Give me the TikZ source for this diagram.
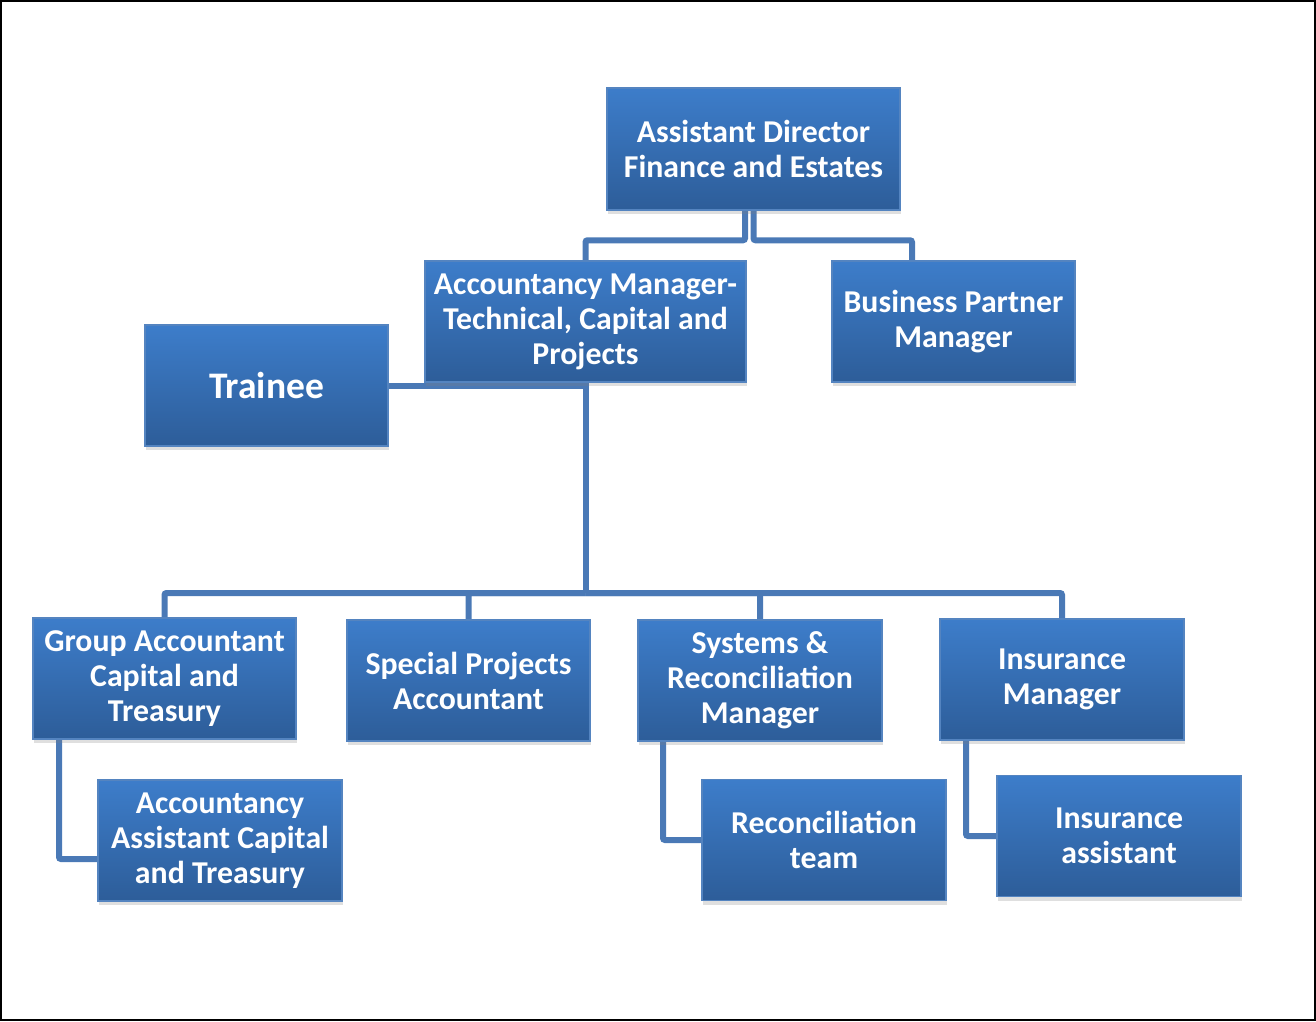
\documentclass[tikz,border=0pt]{standalone}
\usepackage{fontspec}
\setmainfont{Carlito}
\usepackage{tikz}
\usetikzlibrary{shadows,backgrounds}

\definecolor{boxtop}{RGB}{61,125,202}
\definecolor{boxbottom}{RGB}{45,93,153}
\definecolor{boxline}{RGB}{84,132,192}
\definecolor{linkblue}{RGB}{74,121,182}

\begin{document}
\begin{tikzpicture}[x=1pt,y=-1pt]
    \tikzstyle{post}=[rectangle,top color=boxtop,bottom color=boxbottom,draw=boxline,line width=1.5pt,
        minimum height=121pt,inner sep=0pt,align=center,text=white,font=\bfseries\fontsize{31.8}{35}\selectfont,
        drop shadow={shadow xshift=1pt,shadow yshift=-4pt,opacity=0.25}]
    \tikzstyle{link}=[draw=linkblue,line width=6pt,rounded corners=2pt]

    % frame of the page
    \draw[line width=2pt] (1,1) rectangle (1315,1020);

    % top level
    \node[post,minimum width=293pt,minimum height=122pt] (AD) at (753.5,149) {Assistant Director\\Finance and Estates};
    % second level
    \node[post,minimum width=321pt] (AM) at (585.5,321.5) {Accountancy Manager-\\Technical, Capital and\\Projects};
    \node[post,minimum width=243pt] (BP) at (953.5,321.5) {Business Partner\\Manager};
    \node[post,minimum width=243pt,font=\bfseries\fontsize{37.5}{42}\selectfont] (TR) at (266.5,385.5) {Trainee};
    % third level
    \node[post,minimum width=263pt] (GA) at (164.5,678.5) {Group Accountant\\Capital and\\Treasury};
    \node[post,minimum width=243pt] (SP) at (468.5,680.5) {Special Projects\\Accountant};
    \node[post,minimum width=244pt] (SR) at (760,680.5) {Systems \&\\Reconciliation\\Manager};
    \node[post,minimum width=244pt] (IM) at (1062,679.5) {Insurance\\Manager};
    % assistants
    \node[post,minimum width=244pt] (AA) at (220,840.5) {Accountancy\\Assistant Capital\\and Treasury};
    \node[post,minimum width=244pt] (RT) at (824,840) {Reconciliation\\team};
    \node[post,minimum width=244pt] (IA) at (1119,836) {Insurance\\assistant};

    % connectors
    \begin{pgfonlayer}{background}
    \path[link] ([xshift=-8.5pt]AD.south) -- ++(0,29.5) -| (AM.north);
    \path[link] (AD.south) -- ++(0,29.5) -| ([xshift=-41.5pt]BP.north);
    \coordinate (bus) at (585.5,593);
    \path[link] (AM.south) -- (bus);
    \path[link] (TR.east) -- (AM.south |- TR.east);
    \foreach \n in {GA,SP,SR,IM}
        \path[link] (bus) -| (\n.north);
    \path[link] ([xshift=-105.5pt]GA.south) |- ([yshift=-18.5pt]AA.west);
    \path[link] ([xshift=-97pt]SR.south) |- (RT.west);
    \path[link] ([xshift=-96pt]IM.south) |- (IA.west);
    \end{pgfonlayer}
\end{tikzpicture}
\end{document}
